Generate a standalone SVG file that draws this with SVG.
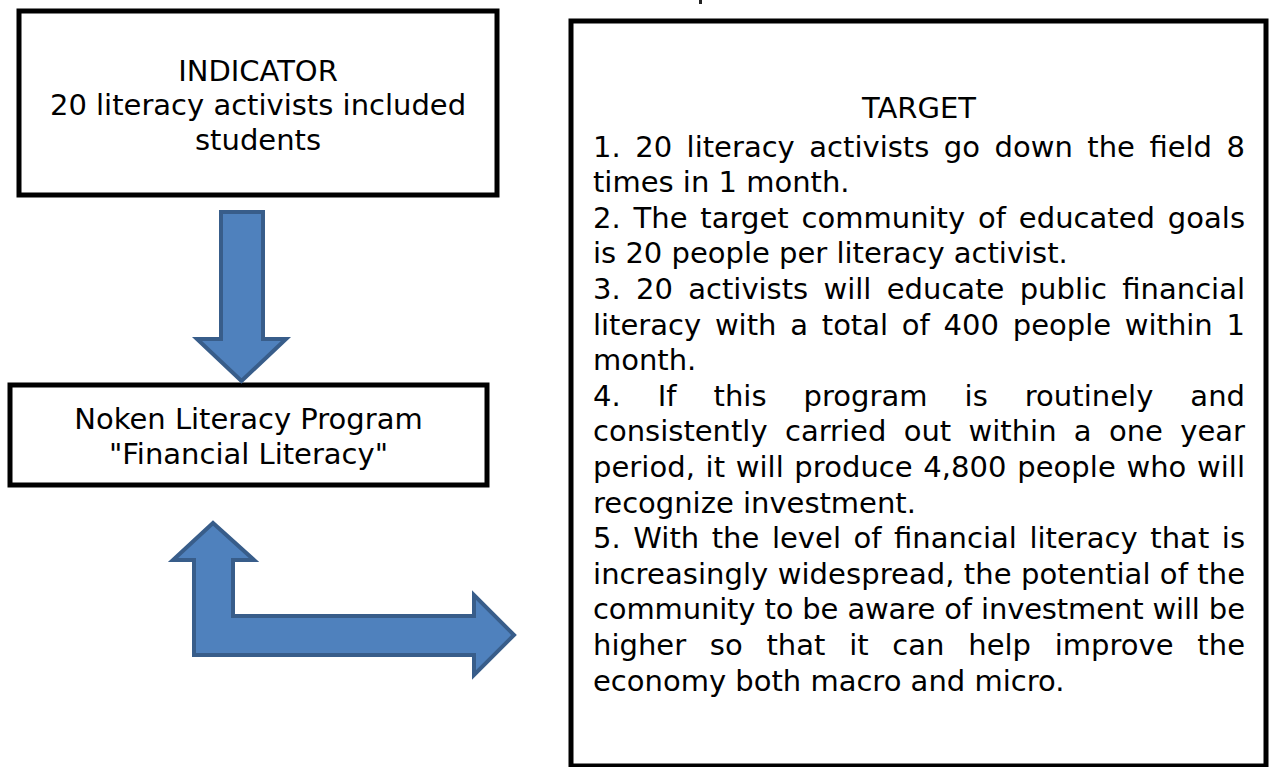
<svg xmlns="http://www.w3.org/2000/svg" width="1272" height="767" viewBox="0 0 1272 767">
<style>
.box{fill:#fff;stroke:#000;stroke-width:5}
.arrow{fill:#4F81BD;stroke:#385D8A;stroke-width:4;stroke-linejoin:miter}
.t{font-family:"DejaVu Sans","Verdana",sans-serif;font-size:29px;fill:#000}
.c{text-anchor:middle}
</style>
<rect x="0" y="0" width="1272" height="767" fill="#fff"/>
<rect x="699" y="0" width="3" height="4" fill="#222"/>
<g id="indicator">
<rect class="box" x="19" y="11" width="478" height="184"/>
<text class="t c" x="258" y="80.5">INDICATOR</text>
<text class="t c" x="258" y="115">20 literacy activists included</text>
<text class="t c" x="258" y="150">students</text>
</g>
<g id="program">
<rect class="box" x="10" y="385" width="477" height="100"/>
<text class="t c" x="248.5" y="428.5">Noken Literacy Program</text>
<text class="t c" x="248.5" y="464">"Financial Literacy"</text>
</g>
<g id="target">
<rect class="box" x="571" y="21" width="695" height="745"/>
<text class="t c" x="919" y="118">TARGET</text>
<g class="t">
<text x="593" y="156.5" word-spacing="5.3" textLength="652" lengthAdjust="spacing">1. 20 literacy activists go down the field 8</text>
<text x="593" y="192.1">times in 1 month.</text>
<text x="593" y="227.7" word-spacing="3.6" textLength="652" lengthAdjust="spacing">2. The target community of educated goals</text>
<text x="593" y="263.3">is 20 people per literacy activist.</text>
<text x="593" y="298.9" word-spacing="6.1" textLength="652" lengthAdjust="spacing">3. 20 activists will educate public financial</text>
<text x="593" y="334.5" word-spacing="4.6" textLength="652" lengthAdjust="spacing">literacy with a total of 400 people within 1</text>
<text x="593" y="370.1">month.</text>
<text x="593" y="405.7" word-spacing="27.7" textLength="652" lengthAdjust="spacing">4. If this program is routinely and</text>
<text x="593" y="441.3" word-spacing="8.1" textLength="652" lengthAdjust="spacing">consistently carried out within a one year</text>
<text x="593" y="476.9" word-spacing="1.3" textLength="652" lengthAdjust="spacing">period, it will produce 4,800 people who will</text>
<text x="593" y="512.5">recognize investment.</text>
<text x="593" y="548.1" word-spacing="3.3" textLength="652" lengthAdjust="spacing">5. With the level of financial literacy that is</text>
<text x="593" y="583.7" textLength="652" lengthAdjust="spacing">increasingly widespread, the potential of the</text>
<text x="593" y="619.3" textLength="652" lengthAdjust="spacing">community to be aware of investment will be</text>
<text x="593" y="654.9" word-spacing="14.5" textLength="652" lengthAdjust="spacing">higher so that it can help improve the</text>
<text x="593" y="690.5">economy both macro and micro.</text>
</g>
</g>
<g id="connectors">
<path class="arrow" d="M221 212 H263 V339 H286 L241.5 381 L197 339 H221 Z"/>
<path class="arrow" d="M213 523 L254 560 H233 V616 H474 V595 L514 635 L474 675 V655 H194 V560 H173 Z"/>
</g>
</svg>
